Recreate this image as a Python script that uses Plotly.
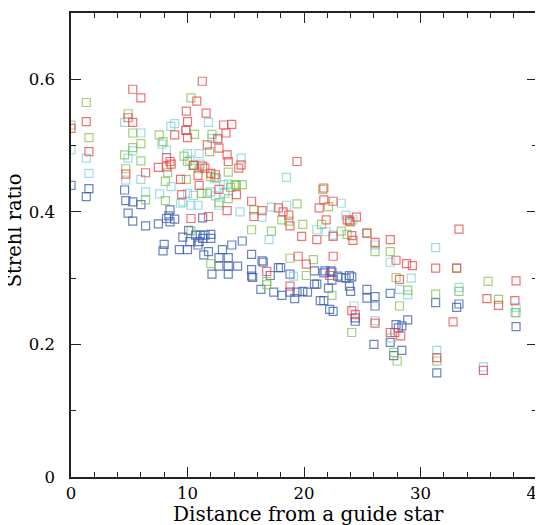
import plotly.graph_objects as go

# Red band
red_x = [0, 1.31, 1.54, 5.3, 6.0, 4.9, 5.3, 4.7, 6.4, 7.5, 8.2, 8.2, 8.6, 8.5, 8.9, 9.4, 9.5,
         9.85, 10.0, 9.9, 10.0, 10.8, 11.27, 11.6, 11.7, 12.7, 13.1, 13.8, 13.3, 12.6, 11.3, 11.5,
         12.0, 12.4, 12.7, 13.4, 13.5, 14.6, 14.4, 14.2, 13.4, 15.5, 16.4, 15.7, 17.8, 18.2, 18.7,
         18.8, 19.4, 19.8, 21.1, 21.7, 21.7, 22.5, 21.3, 21.9, 23.7, 22.5, 22.5, 16.8, 19.5, 20.2,
         22.2, 18.8, 24.1, 24.5, 23.9, 24.1, 24.2, 25.4, 26.1, 27.4, 27.9, 28.8, 29.3, 31.3, 33.1,
         33.3, 38.2, 35.7, 36.7, 38.1, 32.8, 31.4, 35.4, 24.4, 28.2, 27.4, 27.8, 28.3, 10.3, 11.8,
         26.1, 10.5, 10.9, 11.0]
red_y = [0.526, 0.536, 0.491, 0.585, 0.572, 0.542, 0.535, 0.457, 0.459, 0.467, 0.468, 0.482, 0.472,
         0.476, 0.516, 0.449, 0.426, 0.523, 0.512, 0.552, 0.536, 0.567, 0.597, 0.549, 0.501, 0.496,
         0.531, 0.532, 0.519, 0.510, 0.469, 0.466, 0.458, 0.456, 0.434, 0.486, 0.476, 0.471, 0.466,
         0.426, 0.402, 0.416, 0.402, 0.393, 0.406, 0.400, 0.395, 0.379, 0.476, 0.363, 0.358, 0.436,
         0.418, 0.416, 0.406, 0.388, 0.388, 0.363, 0.333, 0.310, 0.333, 0.321, 0.304, 0.288, 0.251,
         0.392, 0.386, 0.364, 0.357, 0.368, 0.354, 0.358, 0.327, 0.322, 0.319, 0.315, 0.315, 0.374,
         0.296, 0.269, 0.259, 0.266, 0.234, 0.180, 0.161, 0.245, 0.298, 0.218, 0.218, 0.213, 0.390,
         0.393, 0.232, 0.470, 0.455, 0.440]

# Green band
green_x = [0, 1.31, 1.54, 4.9, 5.3, 5.3, 4.6, 4.7, 6.0, 6.0, 7.57, 7.9, 8.3, 8.1, 8.1, 6.4, 9.9,
           10.3, 10.6, 9.7, 10.0, 10.5, 11.0, 11.9, 12.1, 12.0, 12.3, 11.7, 11.2, 12.7, 13.5, 13.5,
           14.1, 14.7, 13.7, 14.2, 15.7, 18.1, 18.7, 19.4, 19.9, 21.5, 21.6, 22.1, 23.2, 23.7, 10.3,
           12.0, 16.8, 16.8, 18.8, 20.2, 20.8, 22.4, 24.1, 24.0, 25.4, 26.1, 27.4, 27.9, 28.9, 28.2,
           31.3, 33.1, 33.3, 35.8, 36.7, 38.2, 31.4, 27.7, 28.0, 15.5, 17.2]
green_y = [0.531, 0.565, 0.512, 0.548, 0.519, 0.497, 0.486, 0.465, 0.503, 0.477, 0.516, 0.506, 0.459,
           0.446, 0.417, 0.418, 0.449, 0.572, 0.517, 0.484, 0.476, 0.470, 0.465, 0.491, 0.517, 0.453,
           0.452, 0.428, 0.428, 0.414, 0.460, 0.420, 0.441, 0.441, 0.437, 0.440, 0.403, 0.388, 0.386,
           0.412, 0.381, 0.381, 0.434, 0.408, 0.371, 0.366, 0.371, 0.322, 0.295, 0.290, 0.330, 0.304,
           0.328, 0.274, 0.218, 0.385, 0.368, 0.340, 0.340, 0.301, 0.282, 0.258, 0.276, 0.315, 0.280,
           0.295, 0.268, 0.248, 0.175, 0.188, 0.175, 0.373, 0.371]

# Cyan band
cyan_x = [0, 1.31, 1.54, 4.6, 6.0, 5.3, 4.9, 4.7, 6.0, 6.4, 7.8, 8.2, 8.57, 8.9, 9.9, 8.6, 7.6,
          9.4, 10.0, 11.0, 10.2, 10.6, 11.1, 10.0, 10.5, 10.9, 9.6, 10.3, 11.8, 12.1, 12.6, 12.5,
          13.1, 13.5, 12.4, 12.0, 13.2, 12.7, 14.6, 14.5, 16.4, 17.2, 18.5, 18.5, 21.1, 21.9, 22.5,
          23.2, 23.6, 24.2, 26.1, 27.4, 29.2, 28.2, 28.9, 31.3, 33.3, 38.2, 38.1, 24.3, 26.1, 31.4,
          35.4, 27.5, 19.1, 17.0]
cyan_y = [0.494, 0.481, 0.458, 0.535, 0.519, 0.492, 0.481, 0.448, 0.449, 0.430, 0.502, 0.493, 0.529,
          0.533, 0.523, 0.438, 0.427, 0.413, 0.488, 0.488, 0.478, 0.470, 0.472, 0.428, 0.425, 0.410,
          0.415, 0.410, 0.535, 0.511, 0.511, 0.450, 0.441, 0.442, 0.424, 0.430, 0.428, 0.410, 0.481,
          0.400, 0.392, 0.407, 0.410, 0.452, 0.373, 0.370, 0.365, 0.413, 0.395, 0.388, 0.350, 0.324,
          0.300, 0.283, 0.275, 0.346, 0.286, 0.256, 0.248, 0.258, 0.236, 0.191, 0.166, 0.210, 0.303,
          0.358]

# Blue band
blue_x = [0, 1.54, 1.31, 4.6, 4.7, 5.3, 6.0, 4.9, 5.3, 6.4, 7.5, 8.5, 8.2, 8.9, 8.4, 8.5, 8.0, 7.9,
          9.3, 10.0, 9.6, 10.1, 10.2, 10.7, 10.9, 11.3, 11.1, 11.5, 11.0, 11.4, 11.8, 11.3, 12.0,
          12.0, 13.0, 13.8, 14.7, 12.7, 13.5, 14.3, 13.5, 12.7, 12.1, 13.5, 15.5, 15.5, 16.4, 18.0,
          18.8, 20.9, 21.8, 22.3, 20.9, 21.1, 22.9, 16.5, 15.5, 15.6, 16.3, 17.4, 18.1, 17.1, 17.8,
          18.8, 19.4, 19.9, 20.3, 19.2, 21.7, 22.4, 22.4, 22.1, 21.4, 21.7, 22.2, 22.5, 23.2, 23.6,
          23.9, 24.1, 23.9, 24.0, 25.4, 25.4, 26.1, 26.1, 24.4, 24.4, 26.0, 27.4, 28.9, 27.9, 28.1,
          28.4, 27.4, 28.4, 27.7, 31.3, 31.4, 33.3, 33.1, 38.2]
blue_y = [0.440, 0.435, 0.423, 0.433, 0.417, 0.415, 0.411, 0.398, 0.386, 0.379, 0.382, 0.403, 0.390,
          0.389, 0.394, 0.385, 0.351, 0.341, 0.343, 0.343, 0.362, 0.372, 0.355, 0.365, 0.350, 0.391,
          0.365, 0.365, 0.355, 0.335, 0.340, 0.360, 0.366, 0.360, 0.343, 0.350, 0.356, 0.331, 0.331,
          0.318, 0.318, 0.318, 0.306, 0.306, 0.336, 0.303, 0.326, 0.316, 0.306, 0.311, 0.311, 0.311,
          0.291, 0.291, 0.303, 0.324, 0.313, 0.301, 0.283, 0.279, 0.274, 0.304, 0.316, 0.279, 0.279,
          0.280, 0.279, 0.269, 0.308, 0.309, 0.297, 0.285, 0.266, 0.266, 0.253, 0.250, 0.301, 0.300,
          0.304, 0.302, 0.288, 0.280, 0.283, 0.270, 0.272, 0.258, 0.240, 0.235, 0.200, 0.277, 0.237,
          0.230, 0.225, 0.228, 0.203, 0.191, 0.183, 0.263, 0.157, 0.261, 0.256, 0.227]

x_ticks = [0, 10, 20, 30, 40]
y_ticks = [0, 0.2, 0.4, 0.6]
y_tick_text = ["0", "0.2", "0.4", "0.6"]
x_title = "Distance from a guide star"
y_title = "Strehl ratio"

series = [
    ("blue", blue_x, blue_y, "rgba(55,90,175,0.75)"),
    ("cyan", cyan_x, cyan_y, "rgba(120,205,220,0.7)"),
    ("green", green_x, green_y, "rgba(120,190,70,0.7)"),
    ("red", red_x, red_y, "rgba(235,60,60,0.72)"),
]

fig = go.Figure()
for name, xs, ys, col in series:
    fig.add_trace(go.Scatter(
        x=xs, y=ys, mode="markers", name=name,
        marker=dict(symbol="square-open", size=8, color=col, line=dict(width=1.2, color=col)),
        showlegend=False,
    ))

font_family = "DejaVu Serif"
tick_font = dict(family=font_family, size=16.5, color="black")
axis_common = dict(
    showgrid=False, zeroline=False, showline=True, linecolor="#222", linewidth=1.6,
    mirror="ticks", ticks="inside", ticklen=10, tickwidth=1.4, tickcolor="#222",
    tickfont=tick_font,
)
fig.update_xaxes(
    range=[0, 40], tickvals=x_ticks, ticktext=[str(v) for v in x_ticks],
    minor=dict(dtick=2, ticks="inside", ticklen=5, tickwidth=1.2, tickcolor="#222"),
    **axis_common,
)
fig.update_yaxes(
    range=[0, 0.7], tickvals=y_ticks, ticktext=y_tick_text, ticklabelstandoff=11,
    minor=dict(dtick=0.1, ticks="inside", ticklen=5, tickwidth=1.2, tickcolor="#222"),
    **axis_common,
)
fig.add_annotation(
    text=x_title, xref="paper", yref="paper", x=(302 - 63) / 468, y=(469 - 506) / 466,
    xanchor="center", yanchor="middle", showarrow=False,
    font=dict(family=font_family, size=20, color="black"),
)
fig.add_annotation(
    text=y_title, xref="paper", yref="paper", x=(6 - 63) / 468, y=(469 - 221) / 466,
    xanchor="center", yanchor="middle", showarrow=False, textangle=-90,
    font=dict(family=font_family, size=19.5, color="black"),
)
fig.update_layout(
    width=543, height=525,
    margin=dict(l=63, r=12, t=3, b=56),
    paper_bgcolor="white", plot_bgcolor="white",
)
fig.write_html("out.html")
